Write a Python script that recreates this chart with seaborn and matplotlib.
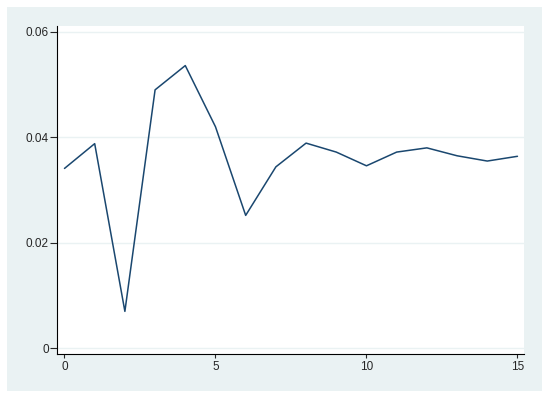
import matplotlib
matplotlib.use("Agg")
import matplotlib.pyplot as plt
import matplotlib.patches as patches
import pandas as pd
import seaborn as sns

# valores
periodos = list(range(16))
valores = [0.0341, 0.0388, 0.0070, 0.0490, 0.0536, 0.0420, 0.0252, 0.0344,
           0.0389, 0.0372, 0.0346, 0.0372, 0.0380, 0.0365, 0.0355, 0.0364]
yticks = [0, 0.02, 0.04, 0.06]
yticklabels = ["0", "0.02", "0.04", "0.06"]
xticks = [0, 5, 10, 15]

df = pd.DataFrame({"periodo": periodos, "valor": valores})

sns.set_style("white")
plt.rcParams["font.family"] = ["Liberation Sans", "DejaVu Sans"]

fundo = "#EAF2F3"
azul = "#1A476F"

fig = plt.figure(figsize=(5.5, 4), dpi=100, facecolor="white")
# caixa clara a volta do grafico (estilo Stata)
caixa = patches.Rectangle((7 / 550, 1 - 391 / 400), 535 / 550, 384 / 400,
                          transform=fig.transFigure, facecolor=fundo,
                          edgecolor="none")
caixa.set_zorder(-1)
fig.add_artist(caixa)

ax = fig.add_axes([57 / 550, 1 - 354 / 400, 466.5 / 550, 328.3 / 400])
ax.set_zorder(2)
ax.set_facecolor("white")

sns.lineplot(data=df, x="periodo", y="valor", color=azul, linewidth=1.1, ax=ax)

ax.set_xlim(-0.248, 15.2)
ax.set_ylim(-0.00108, 0.06116)
ax.set_xticks(xticks)
ax.set_yticks(yticks)
ax.set_yticklabels(yticklabels)
ax.set_xlabel("")
ax.set_ylabel("")

for y in yticks:
    ax.axhline(y, color=fundo, linewidth=1.0, zorder=0)

for lado in ["top", "right"]:
    ax.spines[lado].set_visible(False)
for lado in ["left", "bottom"]:
    ax.spines[lado].set_color("black")
    ax.spines[lado].set_linewidth(0.8)

ax.tick_params(axis="y", direction="out", length=5, width=0.8, pad=1, labelsize=8.5, left=True)
ax.tick_params(axis="x", direction="out", length=3, width=0.8, pad=2, labelsize=8.5, bottom=True)

fig.savefig("out.png", dpi=100, facecolor="white")
